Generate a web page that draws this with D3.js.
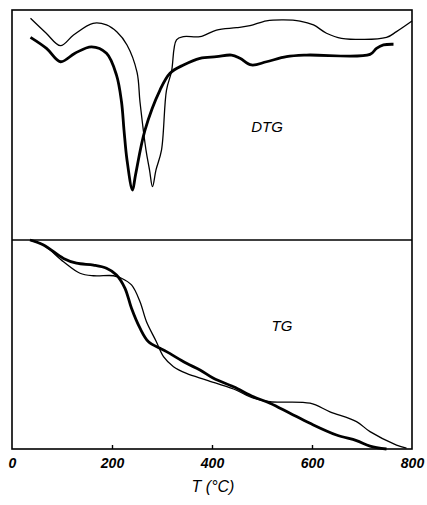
<!DOCTYPE html>
<html>
<head>
<meta charset="utf-8">
<script src="https://cdn.jsdelivr.net/npm/d3@7"></script>
<style>
  html, body { margin: 0; padding: 0; background: #fff; }
  svg { display: block; }
  text { font-family: "Liberation Sans", Arial, sans-serif; fill: #000; }
</style>
</head>
<body>
<svg id="chart" width="427" height="505"></svg>
<script>
// Temperature ticks along the shared x axis (°C)
const tempTicks = [0, 200, 400, 600, 800];

// DTG curves: temperature (°C) and rate of mass loss (arbitrary units, negative = loss)
const dtgThinT = [37, 68, 97, 123, 162, 189, 210, 230, 250, 256, 268, 275, 281, 288, 299, 309, 319, 329, 343, 376, 409, 449, 476, 509, 543, 576, 603, 629, 659, 749, 769, 800];
const dtgThinV = [-3.6, -10.0, -15.5, -10.9, -5.8, -6.5, -9.6, -15.2, -27, -40, -60.9, -69.5, -76.8, -69.5, -60.9, -34.8, -26.8, -13, -11.6, -11.6, -8.7, -7.7, -6.8, -4.7, -4.3, -4.8, -6.5, -10.1, -12.3, -11.9, -9.4, -4.8];

const dtgThickT = [37, 69, 97, 126, 159, 189, 209, 219, 224, 230, 241, 247, 266, 296, 316, 343, 376, 409, 439, 456, 479, 509, 549, 589, 716, 729, 743, 763];
const dtgThickV = [-11.9, -16.7, -22.5, -18.8, -16, -18.8, -28.3, -39.9, -52.2, -65.2, -78.3, -71.7, -52.2, -34.8, -27.5, -23.9, -21, -20.3, -19.6, -21, -23.9, -22.5, -20.3, -19.6, -19.3, -16.7, -15.2, -14.9];

// TG curves: temperature (°C) and residual mass (%)
const tgThickT = [36, 63, 103, 129, 163, 189, 209, 226, 239, 256, 273, 296, 309, 349, 376, 403, 443, 483, 516, 556, 596, 649, 689, 716, 749];
const tgThickM = [100, 97.6, 91.2, 88.9, 88.0, 86.5, 83.3, 76.9, 67.3, 57.8, 51.3, 48.2, 46.6, 41.0, 37.8, 33.8, 29.8, 25.0, 21.9, 17.1, 12.3, 6.7, 4.0, 1.4, 0];

const tgThinT = [36, 63, 103, 136, 163, 203, 219, 239, 256, 269, 288, 303, 323, 349, 389, 443, 483, 516, 596, 636, 689, 716, 769, 789];
const tgThinM = [100, 97.6, 89.6, 84.1, 82.9, 82.9, 81.7, 78.5, 70.5, 60.9, 51.7, 44.2, 39.4, 36.2, 33.0, 28.7, 24.3, 22.6, 21.9, 17.8, 13.1, 8.3, 1.9, 0.4];

const svg = d3.select("#chart");

const padL = 12, padR = 412, padT = 10, padMid = 240, padB = 449;

const x = d3.scaleLinear().domain([0, 800]).range([padL, padR]);
const yDtg = d3.scaleLinear().domain([-100, 0]).range([padMid, padT]);
const yTg = d3.scaleLinear().domain([0, 100]).range([padB, padMid]);

const zip = (a, b) => a.map((v, i) => [v, b[i]]);

const smooth = d3.curveCatmullRom.alpha(0.5);
const dtgLine = d3.line().x(d => x(d[0])).y(d => yDtg(d[1])).curve(smooth);
const tgLine = d3.line().x(d => x(d[0])).y(d => yTg(d[1])).curve(smooth);

// Panel frames
svg.append("rect")
  .attr("x", padL).attr("y", padT)
  .attr("width", padR - padL).attr("height", padB - padT)
  .attr("fill", "none").attr("stroke", "#000").attr("stroke-width", 1.6);
svg.append("line")
  .attr("x1", padL).attr("x2", padR).attr("y1", padMid).attr("y2", padMid)
  .attr("stroke", "#000").attr("stroke-width", 1.6);

// Bottom temperature axis: inward ticks and labels
const axis = d3.axisBottom(x).tickValues(tempTicks).tickSize(-4).tickPadding(0).tickFormat(d3.format("d"));
const axG = svg.append("g").attr("transform", `translate(0,${padB})`).call(axis);
axG.select(".domain").remove();
axG.selectAll(".tick line")
  .attr("stroke", "#000").attr("stroke-width", 1.4)
  .filter(d => d === 0 || d === 800).remove();
axG.selectAll(".tick text")
  .attr("y", 19)
  .attr("dy", 0)
  .style("font-size", "14px")
  .style("font-weight", "bold")
  .style("font-style", "italic")
  .style("font-family", "\"Liberation Sans\", Arial, sans-serif")
  .style("fill", "#000");

svg.append("text")
  .attr("x", 213).attr("y", 492)
  .attr("text-anchor", "middle")
  .style("font-size", "16px").style("font-style", "italic")
  .text("T (°C)");

// DTG curves
svg.append("path").datum(zip(dtgThinT, dtgThinV))
  .attr("d", dtgLine).attr("fill", "none").attr("stroke", "#000").attr("stroke-width", 1.3);
svg.append("path").datum(zip(dtgThickT, dtgThickV))
  .attr("d", dtgLine).attr("fill", "none").attr("stroke", "#000").attr("stroke-width", 2.8);

// TG curves
svg.append("path").datum(zip(tgThinT, tgThinM))
  .attr("d", tgLine).attr("fill", "none").attr("stroke", "#000").attr("stroke-width", 1.3);
svg.append("path").datum(zip(tgThickT, tgThickM))
  .attr("d", tgLine).attr("fill", "none").attr("stroke", "#000").attr("stroke-width", 2.8);

// Panel labels
svg.append("text")
  .attr("x", 267).attr("y", 132).attr("text-anchor", "middle")
  .style("font-size", "15px").style("font-style", "italic")
  .text("DTG");
svg.append("text")
  .attr("x", 282).attr("y", 331).attr("text-anchor", "middle")
  .style("font-size", "15px").style("font-style", "italic")
  .text("TG");
</script>
</body>
</html>
